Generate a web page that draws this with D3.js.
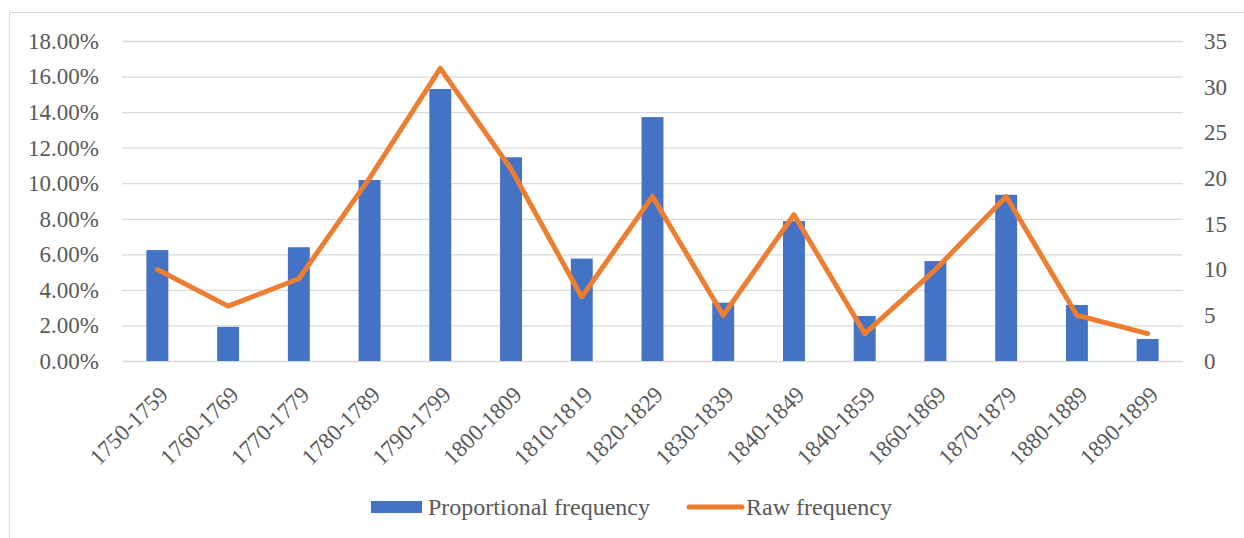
<!DOCTYPE html>
<html>
<head>
<meta charset="utf-8">
<script src="https://cdn.jsdelivr.net/npm/d3@7"></script>
<style>
  html, body { margin: 0; padding: 0; background: #fff; }
  svg { display: block; font-family: "Liberation Serif", "Times New Roman", serif; }
</style>
</head>
<body>
<svg id="chart" width="1244" height="538"></svg>
<script>
// Decades covered by the corpus
const categories = [
  "1750-1759", "1760-1769", "1770-1779", "1780-1789", "1790-1799",
  "1800-1809", "1810-1819", "1820-1829", "1830-1839", "1840-1849",
  "1840-1859", "1860-1869", "1870-1879", "1880-1889", "1890-1899"
];
// Share of occurrences per decade (percent)
const proportionalFrequency = [6.24, 1.92, 6.40, 10.18, 15.30, 11.46, 5.76, 13.72, 3.28, 7.87, 2.53, 5.62, 9.35, 3.15, 1.24];
// Absolute counts per decade
const rawFrequency = [10, 6, 9, 20, 32, 21, 7, 18, 5, 16, 3, 10, 18, 5, 3];
// Axis ticks
const leftTicks = [0, 2, 4, 6, 8, 10, 12, 14, 16, 18];
const rightTicks = [0, 5, 10, 15, 20, 25, 30, 35];

const svg = d3.select("#chart");
const fontFamily = "'Liberation Serif', 'Times New Roman', serif";
const textColor = "#595959";
const gridColor = "#D9D9D9";
const barColor = "#4472C4";
const lineColor = "#ED7D31";

const plot = { left: 122, right: 1183, top: 41, bottom: 361 };

// Chart area frame
svg.append("rect")
  .attr("x", 9.5).attr("y", 12.5)
  .attr("width", 1250).attr("height", 540)
  .attr("fill", "#fff").attr("stroke", gridColor).attr("stroke-width", 1);

const x = d3.scaleBand()
  .domain(categories)
  .range([plot.left, plot.right])
  .paddingInner(0.69)
  .paddingOuter(0.345);

const yLeft = d3.scaleLinear().domain([0, 18]).range([plot.bottom, plot.top]);
const yRight = d3.scaleLinear().domain([0, 35]).range([plot.bottom, plot.top]);

// Horizontal gridlines
const grid = svg.append("g")
  .attr("transform", `translate(${plot.left},0)`)
  .call(d3.axisLeft(yLeft).tickValues(leftTicks).tickSize(-(plot.right - plot.left)).tickFormat(""));
grid.select(".domain").remove();
grid.selectAll(".tick line").attr("stroke", gridColor).attr("stroke-width", 1.3);

// Left axis labels
const leftAxis = svg.append("g")
  .attr("transform", "translate(99,0)")
  .call(d3.axisLeft(yLeft).tickValues(leftTicks).tickSize(0).tickPadding(0)
    .tickFormat(d => d3.format(".2f")(d) + "%"));
leftAxis.attr("font-family", fontFamily).attr("font-size", 23);
leftAxis.select(".domain").remove();
leftAxis.selectAll("text").attr("fill", textColor);

// Right axis labels
const rightAxis = svg.append("g")
  .attr("transform", "translate(1204,0)")
  .call(d3.axisRight(yRight).tickValues(rightTicks).tickSize(0).tickPadding(0));
rightAxis.attr("font-family", fontFamily).attr("font-size", 23);
rightAxis.select(".domain").remove();
rightAxis.selectAll("text").attr("fill", textColor);

// Bars: proportional frequency
svg.append("g")
  .selectAll("rect")
  .data(categories)
  .join("rect")
  .attr("x", d => x(d))
  .attr("y", (d, i) => yLeft(proportionalFrequency[i]))
  .attr("width", x.bandwidth())
  .attr("height", (d, i) => yLeft(0) - yLeft(proportionalFrequency[i]))
  .attr("fill", barColor);

// Category labels, rotated
svg.append("g")
  .attr("font-family", fontFamily)
  .attr("font-size", 23)
  .selectAll("text")
  .data(categories)
  .join("text")
  .attr("transform", d => `translate(${x(d) + x.bandwidth() / 2 + 12},396) rotate(-45)`)
  .attr("text-anchor", "end")
  .attr("fill", textColor)
  .text(d => d);

// Line: raw frequency on the secondary axis
const line = d3.line()
  .x((d, i) => x(categories[i]) + x.bandwidth() / 2)
  .y(d => yRight(d));

svg.append("path")
  .datum(rawFrequency)
  .attr("d", line)
  .attr("fill", "none")
  .attr("stroke", lineColor)
  .attr("stroke-width", 5)
  .attr("stroke-linejoin", "round")
  .attr("stroke-linecap", "round");

// Legend
const legend = svg.append("g")
  .attr("font-family", fontFamily)
  .attr("font-size", 24);
legend.append("rect")
  .attr("x", 371).attr("y", 501).attr("width", 51).attr("height", 12)
  .attr("fill", barColor);
legend.append("text")
  .attr("x", 428).attr("y", 515)
  .attr("fill", textColor)
  .text("Proportional frequency");
legend.append("line")
  .attr("x1", 689).attr("x2", 742).attr("y1", 507).attr("y2", 507)
  .attr("stroke", lineColor).attr("stroke-width", 5).attr("stroke-linecap", "round");
legend.append("text")
  .attr("x", 746).attr("y", 515)
  .attr("fill", textColor)
  .text("Raw frequency");
</script>
</body>
</html>
